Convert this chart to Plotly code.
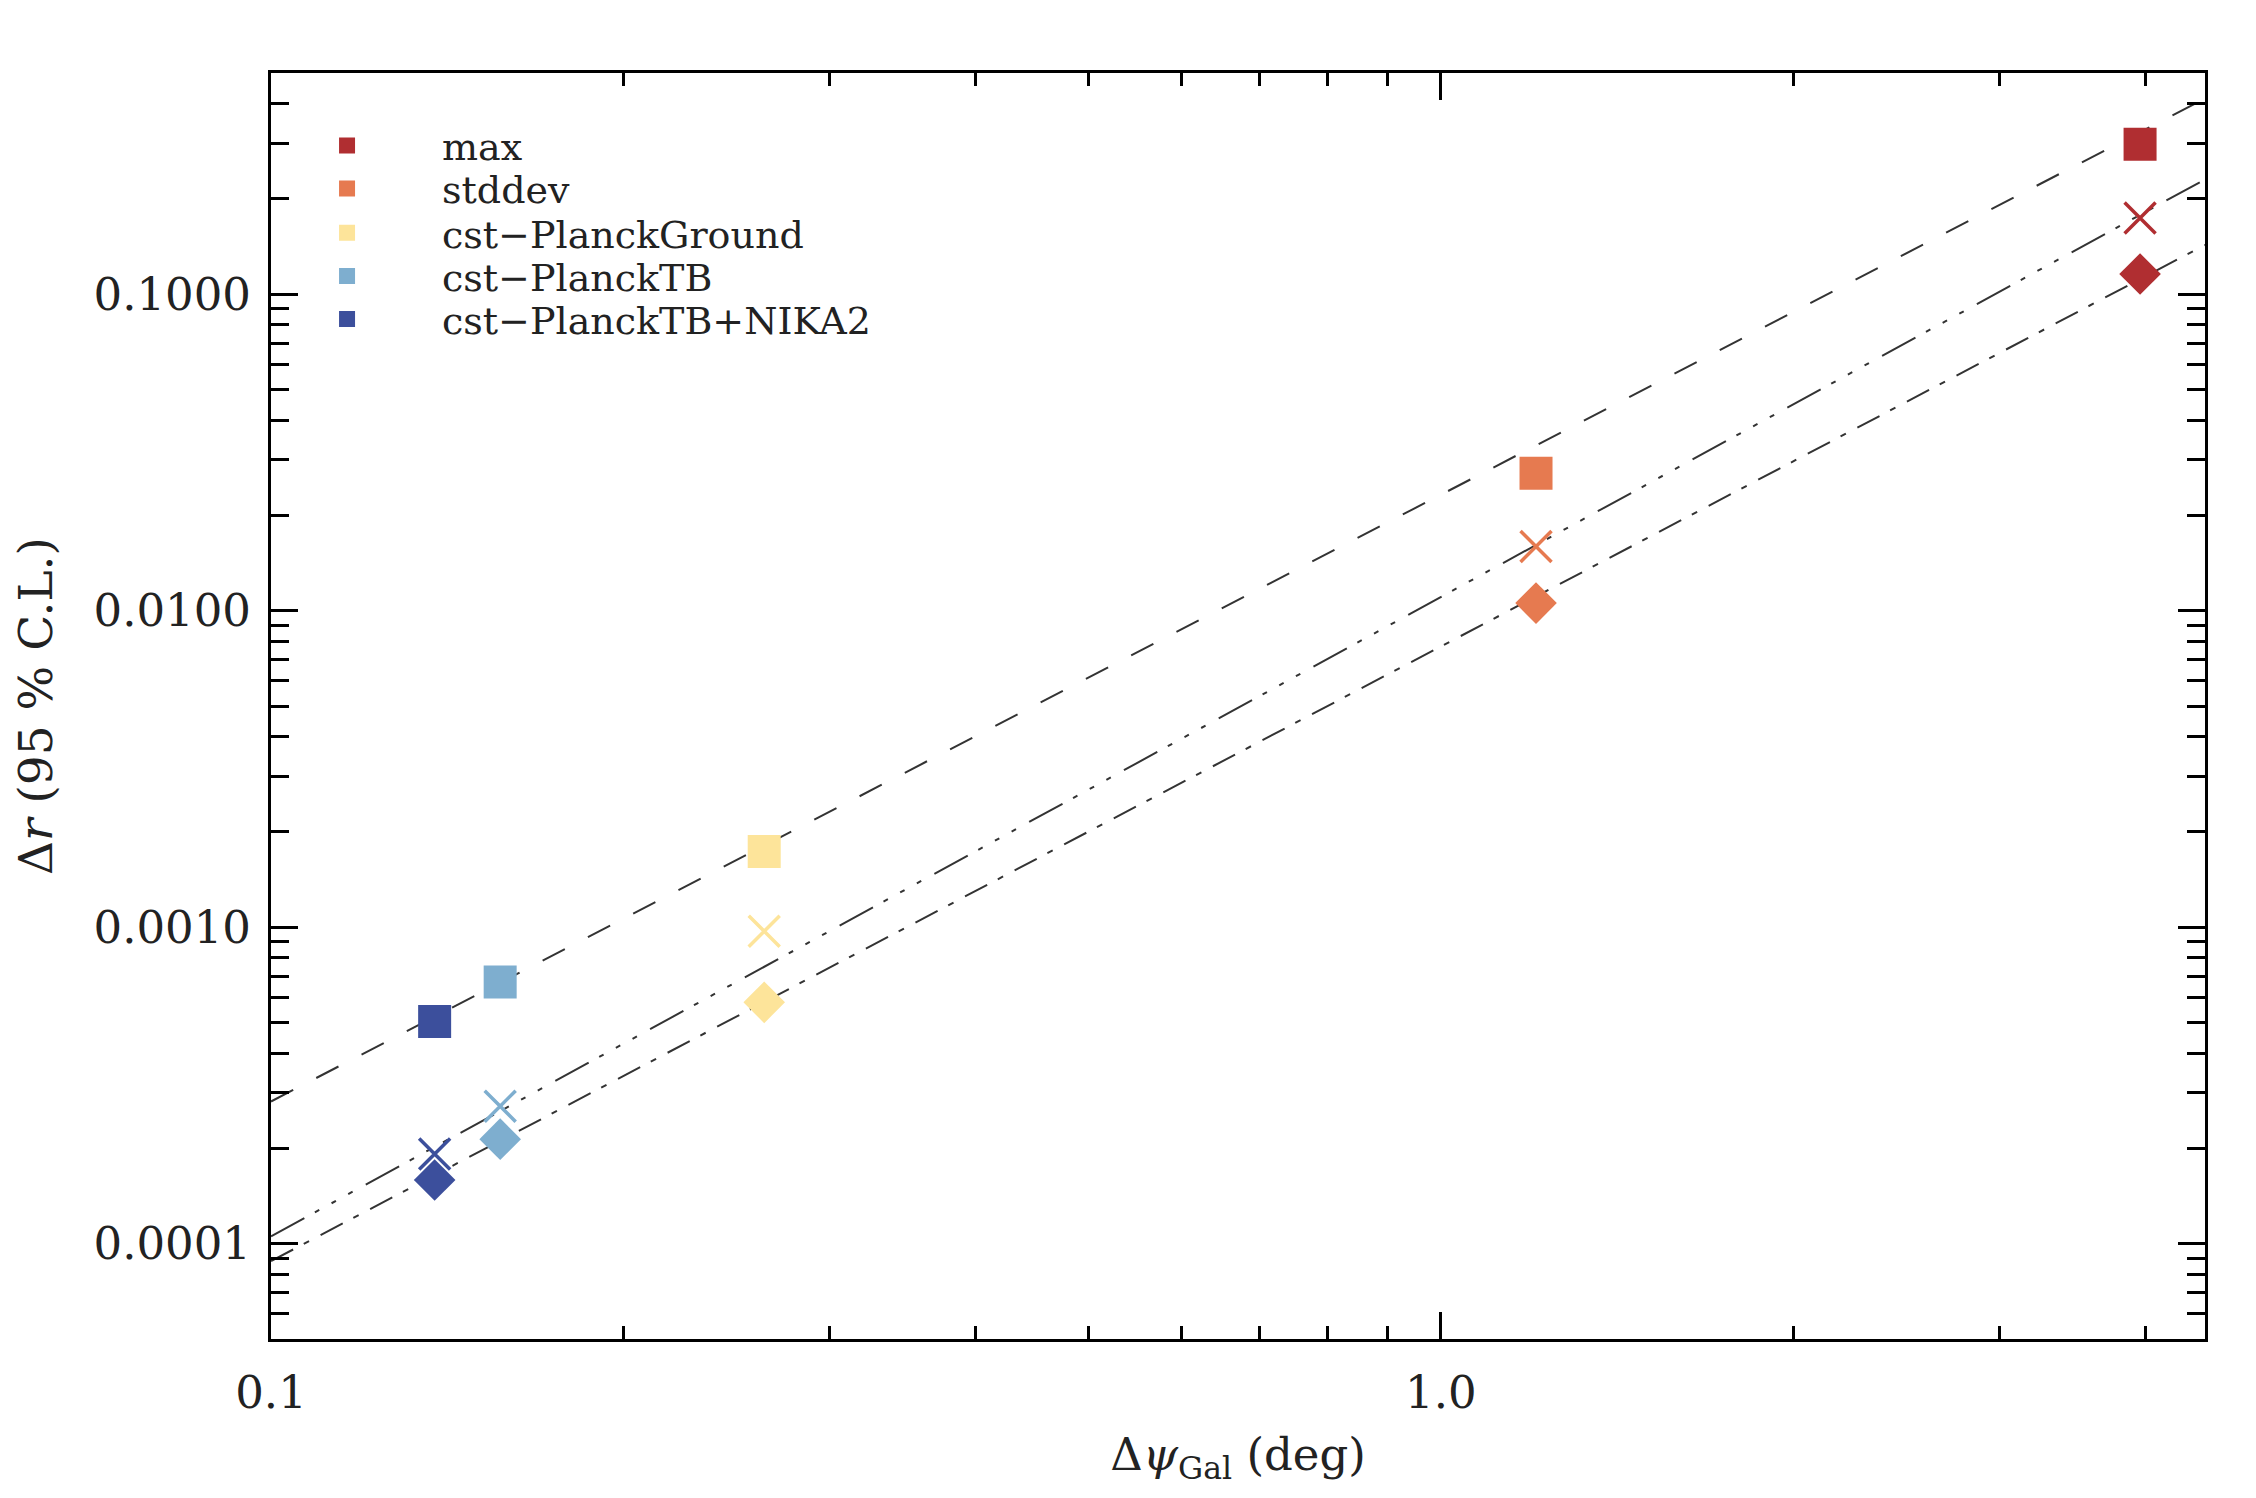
import plotly.graph_objects as go

# ---- data ----
categories = ["max", "stddev", "cst\u2212PlanckGround", "cst\u2212PlanckTB", "cst\u2212PlanckTB+NIKA2"]
colors = ["#B02E31", "#E67A50", "#FDE49A", "#7EAECF", "#3C4F9C"]

dpsi = [3.96, 1.206, 0.264, 0.157, 0.138]           # deg
dr_square = [0.298, 0.0272, 0.001736, 0.000671, 0.000504]
dr_cross = [0.174, 0.01596, 0.000971, 0.000272, 0.000192]
dr_diamond = [0.1158, 0.01057, 0.000579, 0.000214, 0.000159]

# power-law fits dr = amp * dpsi**index (one per marker type)
fit_amp = [0.02325, 0.01105, 0.00771]
fit_index = [1.917, 2.020, 1.942]
fit_dash = ["25px,26px",
            "38px,12px,5px,14px,5px,14px,5px,15px",
            "25px,12px,6px,13px"]

x_range = [0.1, 4.5]

FONT = "DejaVu Serif"
TXT = "#222222"

fig = go.Figure()

# fit lines across the full x range
for amp, idx, dash in zip(fit_amp, fit_index, fit_dash):
    xs = list(x_range)
    ys = [amp * x ** idx for x in xs]
    fig.add_trace(go.Scatter(
        x=xs, y=ys, mode="lines", showlegend=False, hoverinfo="skip",
        line=dict(color="#333333", width=2, dash=dash),
    ))

# markers: square / cross / diamond per case, one legend box per case
legend_ids = ["legend", "legend2", "legend3", "legend4", "legend5"]
for i, name in enumerate(categories):
    c = colors[i]
    fig.add_trace(go.Scatter(
        x=[dpsi[i]], y=[dr_square[i]], mode="markers", name=name,
        legend=legend_ids[i],
        marker=dict(symbol="square", size=33, color=c, line=dict(width=0)),
    ))
    fig.add_trace(go.Scatter(
        x=[dpsi[i]], y=[dr_cross[i]], mode="markers", showlegend=False,
        marker=dict(symbol="x-thin", size=31, color=c, line=dict(width=3.5, color=c)),
    ))
    fig.add_trace(go.Scatter(
        x=[dpsi[i]], y=[dr_diamond[i]], mode="markers", showlegend=False,
        marker=dict(symbol="diamond", size=32, color=c, line=dict(width=0)),
    ))

axis_common = dict(
    type="log",
    showgrid=False, zeroline=False,
    showline=True, linecolor="black", linewidth=3, mirror="allticks",
    ticks="inside", tickcolor="black", tickwidth=3, ticklen=27,
    dtick=1,
    tickfont=dict(family=FONT, size=45, color=TXT),
)

legend_rows_y = [0.9425, 0.9085, 0.8735, 0.8395, 0.8055]
legends = {}
for lid, ly in zip(legend_ids, legend_rows_y):
    legends[lid] = dict(
        x=-0.0098, y=ly, xanchor="left", yanchor="middle",
        bgcolor="rgba(0,0,0,0)", borderwidth=0,
        font=dict(family=FONT, size=38, color=TXT),
        itemwidth=180,
    )

fig.update_layout(
    width=2240, height=1482,
    margin=dict(l=263, r=43, t=65, b=151),
    paper_bgcolor="white", plot_bgcolor="white",
    font=dict(family=FONT, color=TXT),
    xaxis=dict(
        axis_common,
        range=[-1, 0.6532],
        tickformat=".1f",
        ticklabelstandoff=12,
        minor=dict(ticks="inside", ticklen=13, tickwidth=3, tickcolor="black", dtick="D1"),
        title=dict(text="\u0394<i>\u03c8</i><sub>Gal</sub> (deg)",
                   font=dict(family=FONT, size=45, color=TXT), standoff=21),
    ),
    yaxis=dict(
        axis_common,
        range=[-4.301, -0.301],
        tickformat=".4f",
        ticklabelstandoff=8,
        minor=dict(ticks="inside", ticklen=18, tickwidth=3, tickcolor="black", dtick="D1"),
        title=dict(text="\u0394<i>r</i> (95 % C.L.)",
                   font=dict(family=FONT, size=47, color=TXT), standoff=30),
    ),
    **legends,
)

fig.write_html("out.html")
